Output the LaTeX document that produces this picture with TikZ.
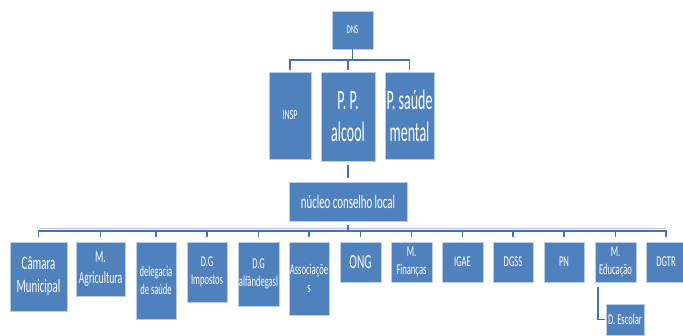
\documentclass[tikz,border=0pt]{standalone}
\usepackage{fontspec}
\setmainfont{Carlito}[FakeStretch=0.57]
\newfontfamily\bigcond{Carlito}[FakeStretch=0.5]
\definecolor{boxblue}{RGB}{79,129,189}
\definecolor{boxedge}{RGB}{185,205,229}
\definecolor{linkblue}{RGB}{70,116,170}
\definecolor{barlight}{RGB}{184,204,228}
\tikzset{
  box/.style={rectangle, fill=boxblue, draw=boxedge, line width=0.6pt, text=white, align=center, inner sep=0pt},
  conn/.style={draw=linkblue, line width=1.8pt},
  fs/.style={font=\fontsize{#1}{#1*1.2}\selectfont}
}
\newcommand{\fsz}[2]{\fontsize{#1}{#2}\selectfont}
\begin{document}
\begin{tikzpicture}[x=1pt,y=-1pt]
\useasboundingbox (0,0) rectangle (683,336);
% top
\node[box, minimum width=41pt, minimum height=38pt, font=\fsz{12}{14}] (dns) at (352.5,30) {DNS};
\node[box, minimum width=42pt, minimum height=87pt, font=\fsz{14}{16}] (insp) at (290,115.5) {INSP};
\node[box, minimum width=54pt, minimum height=89pt, font=\bigcond\fsz{28}{32}] (ppa) at (348,116.5) {P. P.\\alcool};
\node[box, minimum width=49pt, minimum height=87pt, font=\bigcond\fsz{28}{32}] (psm) at (409.5,115.5) {P. saúde\\mental};
\node[box, minimum width=118pt, minimum height=39pt, font=\fsz{19}{22}] (nuc) at (348,201.5) {núcleo conselho local};
% bottom row (tops at 242)
\node[box, minimum width=57pt, minimum height=69pt, font=\fsz{19}{23}] (cam) at (38.5,276.5) {Câmara\\Municipal};
\node[box, minimum width=49pt, minimum height=54pt, font=\fsz{17}{21}] (magr) at (100.5,269) {M.\\Agricultura};
\node[box, minimum width=40pt, minimum height=77pt, font=\fsz{15}{18}] (del) at (156,280.5) {delegacia\\de saúde};
\node[box, minimum width=40pt, minimum height=60pt, font=\fsz{15}{18}] (dgi) at (207,272) {D.G\\Impostos};
\node[box, minimum width=41pt, minimum height=64pt, font=\fsz{15}{18}] (dga) at (258.5,274) {D.G\\alfândegasl};
\node[box, minimum width=40pt, minimum height=73pt, font=\fsz{15}{18}] (ass) at (309,278.5) {Associaçõe\\s};
\node[box, minimum width=41pt, minimum height=40pt, font=\fsz{20}{24}] (ong) at (360.5,262) {ONG};
\node[box, minimum width=41pt, minimum height=40pt, font=\fsz{15}{18}] (mfin) at (411.5,262) {M.\\Finanças};
\node[box, minimum width=41pt, minimum height=40pt, font=\fsz{15}{18}] (igae) at (462.5,262) {IGAE};
\node[box, minimum width=40pt, minimum height=40pt, font=\fsz{15}{18}] (dgss) at (513,262) {DGSS};
\node[box, minimum width=40pt, minimum height=40pt, font=\fsz{15}{18}] (pn) at (564,262) {PN};
\node[box, minimum width=41pt, minimum height=40pt, font=\fsz{15}{18}] (medu) at (615.5,262) {M.\\Educação};
\node[box, minimum width=40pt, minimum height=40pt, font=\fsz{15}{18}] (dgtr) at (666,262) {DGTR};
\node[box, minimum width=38pt, minimum height=31pt, font=\fsz{15}{18}] (desc) at (625,319.5) {D. Escolar};
% top connectors
\coordinate (tb) at (348,60);
\draw[conn] (dns.south) -- (dns.south |- tb);
\draw[conn] ([yshift=2pt]insp.north) |- (tb) -| ([yshift=2pt]psm.north);
\draw[conn] (tb) -- ([yshift=2pt]ppa.north);
% middle
\draw[conn, shorten <=4pt, shorten >=4pt] (ppa.south) -- (nuc.north);
% bottom bar
\coordinate (bb) at (348,231);
\draw[barlight, line width=1pt] (cam.north |- 0,228.8) -- (dgtr.north |- 0,228.8);
\draw[conn, shorten <=4pt] (nuc.south) -- (bb);
\draw[conn] ([yshift=5pt]cam.north) |- (bb) -| ([yshift=5pt]dgtr.north);
\foreach \n in {magr,del,dgi,dga,ass,ong,mfin,igae,dgss,pn,medu}
  \draw[conn] (bb -| \n.north) -- ([yshift=5pt]\n.north);
% M. Educação -> D. Escolar
\draw[conn, shorten >=1pt] ([xshift=3pt,yshift=-5pt]medu.south west) |- (desc.west);
\end{tikzpicture}
\end{document}
